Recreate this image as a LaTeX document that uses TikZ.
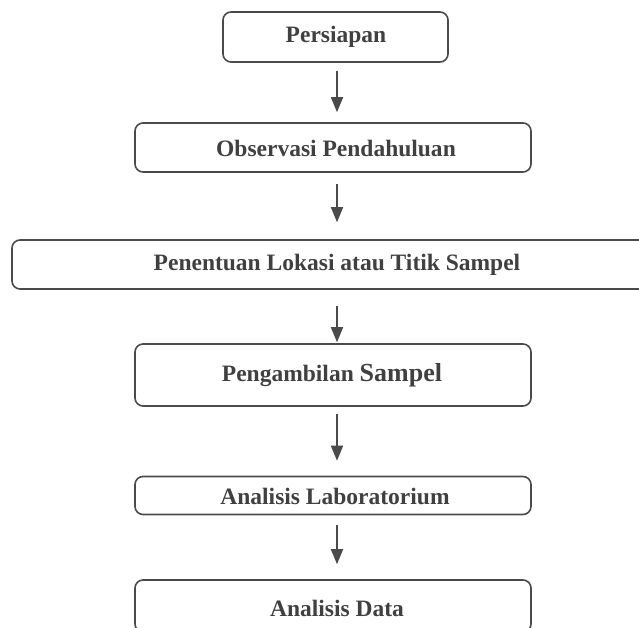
\documentclass[tikz,border=0pt]{standalone}
\usepackage{fontspec}
\setmainfont{Liberation Serif}
\usetikzlibrary{arrows.meta,calc}
\definecolor{ln}{HTML}{4A4A4A}
\definecolor{tx}{HTML}{404040}
\newcommand{\bt}[1]{{\fontsize{23.5}{26}\selectfont\bfseries #1}}
\tikzset{
  box/.style={draw=ln,line width=1.6pt,rounded corners=8pt,inner sep=0pt,fill=white},
  lbl/.style={text=tx,inner sep=0pt},
  arr/.style={draw=ln,line width=1.7pt,-{Triangle[length=15pt,width=12pt]}}
}
\begin{document}
\begin{tikzpicture}[x=1pt,y=-1pt]
\useasboundingbox (0,0) rectangle (639,627);
\clip (0,0) rectangle (639,627);
\coordinate (ax) at (337,0);
\node[box,minimum width=225pt,minimum height=50pt] (b1) at (335.5,37) {};
\node[box,minimum width=396pt,minimum height=49pt] (b2) at (333,147.5) {};
\node[box,minimum width=649pt,minimum height=49pt] (b3) at (336.5,264.5) {};
\node[box,minimum width=396pt,minimum height=62pt] (b4) at (333,375) {};
\node[box,minimum width=396pt,minimum height=38pt] (b5) at (333,495.5) {};
\node[box,minimum width=396pt,minimum height=52pt] (b6) at (333,606) {};
\node[lbl] (t1) at (336,37) {\bt{Persiapan}};
\node[lbl] (t2) at (336,148) {\bt{Observasi Pendahuluan}};
\node[lbl] (t3) at (337,265) {\bt{Penentuan Lokasi atau Titik Sampel}};
\node[lbl] (t4) at (332,375) {\bt{Pengambilan {\fontsize{26}{28}\selectfont Sampel}}};
\node[lbl] (t5) at (335,496) {\bt{Analisis Laboratorium}};
\node[lbl] (t6) at (337,608) {\bt{Analisis Data}};
\draw[arr] ($(b1.south -| ax)+(0,8)$) -- ($(b2.north -| ax)+(0,-10)$);
\draw[arr] ($(b2.south -| ax)+(0,11)$) -- ($(b3.north -| ax)+(0,-17)$);
\draw[arr] ($(b3.south -| ax)+(0,16)$) -- ($(b4.north -| ax)+(0,-1)$);
\draw[arr] ($(b4.south -| ax)+(0,7)$) -- ($(b5.north -| ax)+(0,-15)$);
\draw[arr] ($(b5.south -| ax)+(0,10)$) -- ($(b6.north -| ax)+(0,-15)$);
\end{tikzpicture}
\end{document}
